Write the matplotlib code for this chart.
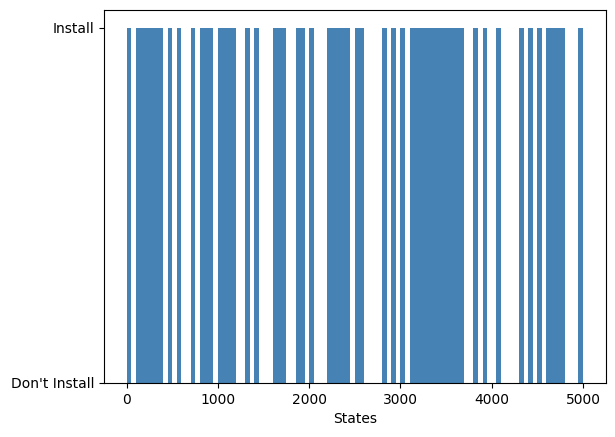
import matplotlib
matplotlib.use('Agg')
import matplotlib.pyplot as plt
import numpy as np

# estados (inicio de cada bloco de 50) e a ação escolhida em cada um
states = np.arange(0, 5000, 50)
actions = [1, 0, 1, 1, 1, 1, 1, 1, 0, 1,
           0, 1, 0, 0, 1, 0, 1, 1, 1, 0,
           1, 1, 1, 1, 0, 0, 1, 0, 1, 0,
           0, 0, 1, 1, 1, 0, 0, 1, 1, 0,
           1, 0, 0, 0, 1, 1, 1, 1, 1, 0,
           1, 1, 0, 0, 0, 0, 1, 0, 1, 0,
           1, 0, 1, 1, 1, 1, 1, 1, 1, 1,
           1, 1, 1, 1, 0, 0, 1, 0, 1, 0,
           0, 1, 0, 0, 0, 0, 1, 0, 1, 0,
           1, 0, 1, 1, 1, 1, 0, 0, 0, 1]
action_labels = ["Don't Install", "Install"]

fig = plt.figure(figsize=(6.15, 4.37), dpi=100)
ax = fig.add_axes([0.169, 0.124, 0.816, 0.853])
ax.bar(states, actions, width=50, align='edge', color='steelblue')
ax.set_yticks([0, 1])
ax.set_yticklabels(action_labels)
ax.set_xlabel('States')
fig.savefig('out.png')
